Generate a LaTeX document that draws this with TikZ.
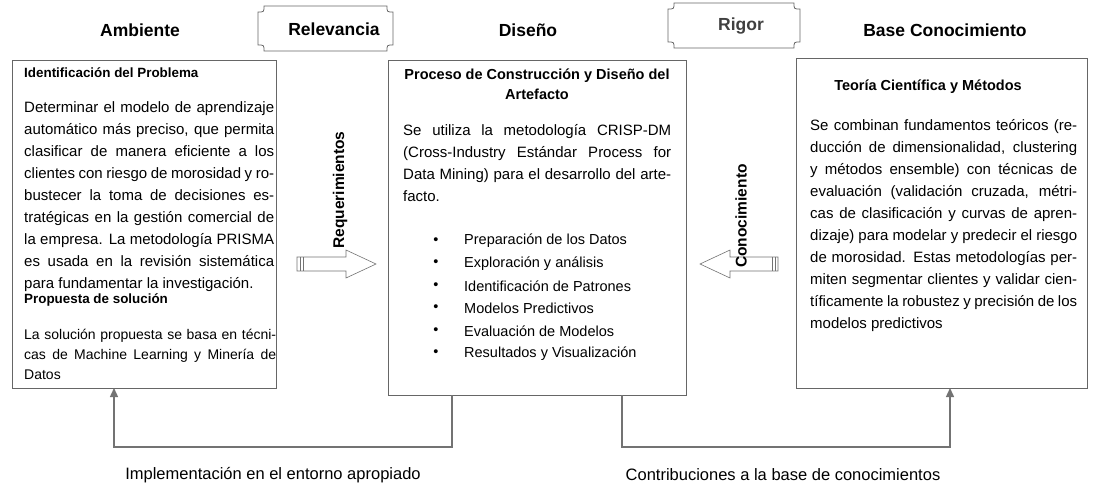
\documentclass[tikz,border=0pt]{standalone}
\usepackage{fontspec}
\setmainfont{Liberation Sans}
\usetikzlibrary{positioning}
\usetikzlibrary{arrows.meta}

\newcommand{\nohyph}{\hyphenpenalty=10000 \exhyphenpenalty=10000 \emergencystretch=3em\relax}
\tikzset{
  box/.style={draw=black!60, line width=0.8pt},
  head/.style={font=\fontsize{17.5}{20}\selectfont\bfseries},
  body/.style={anchor=north west, inner sep=0pt, align=justify,
    font=\fontsize{15}{22}\selectfont},
  lead/.style={anchor=north west, inner sep=0pt, font=\fontsize{13.4}{20}\selectfont\bfseries},
  link/.style={draw=black!55, line width=1.4pt},
  blockarrow/.style={draw=black!55, line width=0.6pt, fill=white},
}
\newcommand{\notchbox}[4]{% x1,y1,x2,y2
  \draw[box] (#1+6,#2) -- (#3-6,#2) .. controls (#3-6,#2+6) .. (#3,#2+6) -- (#3,#4-6)
    .. controls (#3-6,#4-6) .. (#3-6,#4) -- (#1+6,#4) .. controls (#1+6,#4-6) .. (#1,#4-6)
    -- (#1,#2+6) .. controls (#1+6,#2+6) .. cycle;}

\begin{document}
\begin{tikzpicture}[x=1pt, y=-1pt]
  \useasboundingbox (0,0) rectangle (1099,497);

  % banners
  \notchbox{258}{6}{393}{51}
  \notchbox{668}{3}{800}{48}
  \node[head] (relevancia) at (334,29) {Relevancia};
  \node[head, text=black!75] (rigor) at (741,26) {Rigor};

  % column titles
  \node[head] (ambiente) at (140,30) {Ambiente};
  \node[head] (diseno) at (528,30) {Diseño};
  \node[head] (base) at (945,30) {Base Conocimiento};

  % boxes
  \draw[box] (12,60) rectangle (276,388);
  \draw[box] (388,60) rectangle (686,395);
  \draw[box] (796,58) rectangle (1087,388);
  \coordinate (ambbot) at (114,388);
  \coordinate (disbotL) at (452,395);
  \coordinate (disbotR) at (622,395);
  \coordinate (basebot) at (950,388);

  % left box
  \node[lead] (problema) at (24,67) {Identificación del Problema};
  \node[body, text width=250pt] (problematxt) at (24,101)
    {\nohyph Determinar el modelo de aprendizaje automático más preciso, que permita clasificar de manera eficiente a los clientes con riesgo de morosidad y robustecer la toma de decisiones estratégicas en la gestión comercial de la empresa. La metodología PRISMA es usada en la revisión sistemática para fundamentar la investigación.};
  \node[lead] (propuesta) at (24,293) {Propuesta de solución};
  \node[body, text width=252pt, font=\fontsize{14}{20}\selectfont] (propuestatxt) at (24,329)
    {\nohyph La solución propuesta se basa en técnicas de Machine Learning y Minería de Datos};

  % middle box
  \node[anchor=north, inner sep=0pt, align=center, font=\fontsize{14.5}{20}\selectfont\bfseries] (proceso) at (537,69)
    {Proceso de Construcción y Diseño del\\Artefacto};
  \node[body, text width=268pt] (procesotxt) at (403,124)
    {\nohyph Se utiliza la metodología CRISP-DM (Cross-Industry Estándar Process for Data Mining) para el desarrollo del artefacto.};
  \foreach \t [count=\i from 0] in {Preparación de los Datos, Exploración y análisis,
      Identificación de Patrones, Modelos Predictivos, Evaluación de Modelos,
      Resultados y Visualización}
  {
    \node[inner sep=0pt, font=\fontsize{14.5}{15}\selectfont] (bul\i) at (436,241+22.5*\i) {\textbullet};
    \node[anchor=west, inner sep=0pt, font=\fontsize{14.5}{15}\selectfont] (item\i) at (464,241+22.5*\i) {\t};
  }

  % right box
  \node[anchor=center, inner sep=0pt, font=\fontsize{14.5}{20}\selectfont\bfseries] (teoria) at (928,87) {Teoría Científica y Métodos};
  \node[body, text width=267pt] (teoriatxt) at (810,119)
    {\nohyph Se combinan fundamentos teóricos (reducción de dimensionalidad, clustering y métodos ensemble) con técnicas de evaluación (validación cruzada, métricas de clasificación y curvas de aprendizaje) para modelar y predecir el riesgo de morosidad. Estas metodologías permiten segmentar clientes y validar científicamente la robustez y precisión de los modelos predictivos};

  % block arrows
  \draw[blockarrow] (297,257) -- (346,257) -- (346,250) -- (376,264) -- (346,278)
    -- (346,271) -- (297,271) -- cycle;
  \draw[blockarrow] (300,257) -- (300,271) (303,257) -- (303,271);
  \draw[blockarrow] (778,257) -- (730,257) -- (730,250) -- (700,264) -- (730,278)
    -- (730,271) -- (778,271) -- cycle;
  \draw[blockarrow] (775,257) -- (775,271) (772,257) -- (772,271);
  \node[rotate=90, font=\fontsize{15.5}{15}\selectfont\bfseries] (req) at (340,190) {Requerimientos};
  \node[rotate=90, font=\fontsize{15.5}{15}\selectfont\bfseries] (con) at (741,216) {Conocimiento};

  % bottom links
  \draw[link, -{Triangle[length=9pt, width=8pt]}] (disbotL) |- (283,447) -| (ambbot);
  \draw[link, -{Triangle[length=9pt, width=8pt]}] (disbotR) |- (786,447) -| (basebot);
  \node[font=\fontsize{16.5}{18}\selectfont] (impl) at (273,475) {Implementación en el entorno apropiado};
  \node[font=\fontsize{16.5}{18}\selectfont] (contrib) at (783,475) {Contribuciones a la base de conocimientos};
\end{tikzpicture}
\end{document}
